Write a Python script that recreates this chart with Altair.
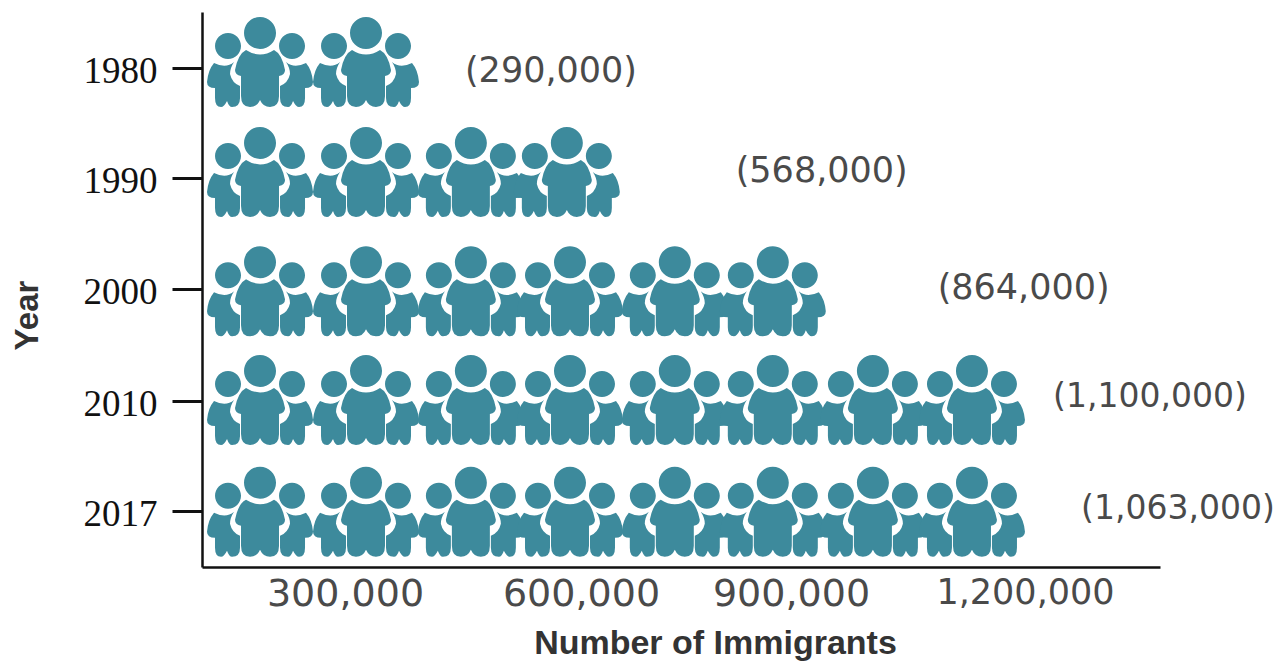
import altair as alt
import pandas as pd

TEAL = "#3d8a9c"
TEXT = "#4a4a4a"
SANS = "DejaVu Sans"

years = [1980, 1990, 2000, 2010, 2017]
totals = ["(290,000)", "(568,000)", "(864,000)", "(1,100,000)", "(1,063,000)"]
icon_x = [
    [187500, 326700],
    [187500, 326700, 460000, 582000],
    [187500, 326700, 460000, 586000, 734000, 874000],
    [187500, 326700, 460000, 586000, 734000, 874000, 1005000, 1132000],
    [187500, 326700, 460000, 586000, 734000, 874000, 1005000, 1132000],
]
icon_y = [1979.45, 1989.45, 2000.2, 2009.9, 2017.06]
label_x = [452500, 821000, 1088000, 1237000, 1274000]
label_y = [1980.3, 1989.4, 1999.9, 2009.6, 2016.9]
x_ticks = [300000, 600000, 900000, 1200000]

x_domain = [110700, 300000, 600000, 900000, 1200000, 1378000]
x_range = [0, 143, 379, 589, 823, 958]
y_domain = [1974.9, 1980, 1990, 2000, 2010, 2017, 2021.3]
y_range = [0, 56, 166, 277, 389, 499, 555]


def circle(x, y, r):
    return f"M{x-r},{y}a{r},{r} 0 1,0 {2*r},0a{r},{r} 0 1,0 {-2*r},0Z"


big_body = (
    "M-14,-12Q0,-3 14,-12Q22,-8 25,8Q25,13 19,14L19,34Q19,45 10,45Q3,45 0,38"
    "Q-3,45 -10,45Q-19,45 -19,34L-19,14Q-25,13 -25,8Q-22,-8 -14,-12Z"
)
left_body = (
    "M-46,1Q-34,7 -26,0Q-30,6 -30,12Q-28,21 -20,24L-20,36Q-20,45 -28,45Q-31,45 -33,39"
    "Q-36,45 -39,45Q-45,45 -45,36L-45,26Q-53,26 -53,20Q-52,8 -46,1Z"
)
right_body = (
    "M46,1Q34,7 26,0Q30,6 30,12Q28,21 20,24L20,36Q20,45 28,45Q31,45 33,39"
    "Q36,45 39,45Q45,45 45,36L45,26Q53,26 53,20Q52,8 46,1Z"
)
ICON = (
    circle(0, -29, 16) + big_body + circle(-32, -16, 13) + left_body
    + circle(32, -16, 13) + right_body
)

icons = pd.DataFrame(
    [{"x": x, "y": y} for xs, y in zip(icon_x, icon_y) for x in xs]
)
labels = pd.DataFrame({"x": label_x, "y": label_y, "t": totals})

x_scale = alt.Scale(domain=x_domain, range=x_range, nice=False, zero=False)
y_scale = alt.Scale(domain=y_domain, range=y_range, nice=False, zero=False)

x_enc = alt.X(
    "x:Q",
    scale=x_scale,
    title="Number of Immigrants",
    axis=alt.Axis(
        values=x_ticks, format=",d", grid=False, ticks=False, domainColor="#111111",
        domainWidth=2.5, labelFont=SANS, labelColor=TEXT,
        labelFontSize=alt.condition("datum.value < 1000000", alt.value(38), alt.value(35)),
        labelPadding=8, labelBaseline="top", labelOverlap=False, labelFlush=False,
        titleFont="Liberation Sans", titleFontSize=34, titleFontWeight="bold",
        titleColor="#333333", titleX=513, titleY=93, titleBaseline="bottom",
    ),
)
y_enc = alt.Y(
    "y:Q",
    scale=y_scale,
    title="Year",
    axis=alt.Axis(
        values=years, format="d", grid=False, tickSize=30, tickWidth=3,
        tickColor="#111111", domainColor="#111111", domainWidth=2.5,
        labelFont="Liberation Serif", labelFontSize=37, labelColor="#111111",
        labelPadding=15, labelOverlap=False, labelOffset=3,
        titleFont="Liberation Sans", titleFontSize=33, titleFontWeight="bold",
        titleColor="#333333", titleX=-175, titleY=303, titleAngle=270,
        titleBaseline="middle",
    ),
)

icon_layer = alt.Chart(icons).mark_point(
    shape=ICON, filled=True, size=4, color=TEAL, opacity=1, strokeWidth=0
).encode(x=x_enc, y=y_enc)

label_layer = alt.Chart(labels).mark_text(
    align="left", baseline="middle", font=SANS, color=TEXT
).encode(
    x=alt.X("x:Q", scale=x_scale),
    y=alt.Y("y:Q", scale=y_scale),
    text="t:N",
    size=alt.condition("datum.x < 1200000", alt.value(35), alt.value(33)),
)

chart = (
    alt.layer(icon_layer, label_layer)
    .properties(
        width=958,
        height=555,
        autosize=alt.AutoSizeParams(type="none"),
        padding={"left": 194, "top": 4, "right": 116, "bottom": 94},
    )
    .configure_view(stroke=None)
)

chart.save("out.html", embed_options={"renderer": "svg", "actions": False})
